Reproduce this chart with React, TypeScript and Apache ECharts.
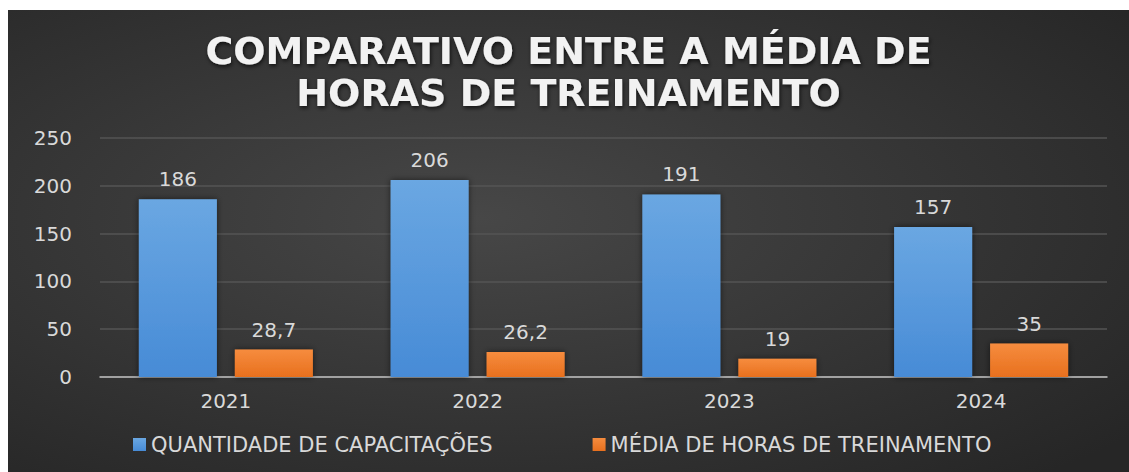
import React, { useEffect, useRef } from "react";
import * as echarts from "echarts";

const categories = ["2021", "2022", "2023", "2024"];
const capacitacoes = [186, 206, 191, 157];
const mediaHoras = [28.7, 26.2, 19, 35];
const seriesNames = ["QUANTIDADE DE CAPACITAÇÕES", "MÉDIA DE HORAS DE TREINAMENTO"];
const titleText = "COMPARATIVO ENTRE A MÉDIA DE\nHORAS DE TREINAMENTO";

const FONT = "'DejaVu Sans', sans-serif";

export default function App() {
  const ref = useRef<HTMLDivElement>(null);
  useEffect(() => {
    if (!ref.current) return;
    const chart = echarts.init(ref.current, null, { renderer: "svg" });
    const labelFmt = (p: any) => String(p.value).replace(".", ",");
    const dataLabel = {
      show: true,
      position: "top",
      distance: 10,
      color: "#d9d9d9",
      fontFamily: FONT,
      fontSize: 20,
      formatter: labelFmt,
    };
    chart.setOption({
      animation: false,
      backgroundColor: "transparent",
      graphic: [
        {
          type: "rect",
          z: -10,
          silent: true,
          shape: { x: 0, y: 0, width: 1121, height: 462 },
          style: {
            fill: {
              type: "radial",
              x: 0.42,
              y: 0.45,
              r: 0.75,
              colorStops: [
                { offset: 0, color: "#474747" },
                { offset: 1, color: "#262626" },
              ],
            },
          },
        },
      ],
      title: {
        text: titleText,
        left: "center",
        top: 15,
        textStyle: {
          color: "#f2f2f2",
          fontFamily: FONT,
          fontWeight: "bold",
          fontSize: 38,
          lineHeight: 42,
          textShadowColor: "rgba(0,0,0,0.7)",
          textShadowBlur: 4,
          textShadowOffsetX: 1,
          textShadowOffsetY: 2,
        },
      },
      legend: {
        bottom: 12,
        left: 120,
        itemWidth: 13,
        itemHeight: 13,
        itemGap: 100,
        icon: "rect",
        textStyle: { color: "#d9d9d9", fontFamily: FONT, fontSize: 21 },
        data: seriesNames,
      },
      grid: { left: 92, right: 22, top: 128, bottom: 95 },
      xAxis: {
        type: "category",
        data: categories,
        axisTick: { show: false },
        axisLine: { lineStyle: { color: "#bfbfbf", width: 1.5 } },
        axisLabel: { color: "#d9d9d9", fontFamily: FONT, fontSize: 20, margin: 14 },
      },
      yAxis: {
        type: "value",
        min: 0,
        max: 250,
        interval: 50,
        axisLine: { show: false },
        axisTick: { show: false },
        splitLine: { lineStyle: { color: "#555555", width: 1.5 } },
        axisLabel: { color: "#d9d9d9", fontFamily: FONT, fontSize: 20, margin: 28 },
      },
      series: [
        {
          name: seriesNames[0],
          type: "bar",
          data: capacitacoes,
          barWidth: "31%",
          barGap: "23%",
          itemStyle: {
            color: {
              type: "linear",
              x: 0, y: 0, x2: 0, y2: 1,
              colorStops: [
                { offset: 0, color: "#6aa7e2" },
                { offset: 1, color: "#478bd6" },
              ],
            },
            shadowColor: "rgba(0,0,0,0.55)",
            shadowBlur: 6,
          },
          label: dataLabel,
        },
        {
          name: seriesNames[1],
          type: "bar",
          data: mediaHoras,
          barWidth: "31%",
          itemStyle: {
            color: {
              type: "linear",
              x: 0, y: 0, x2: 0, y2: 1,
              colorStops: [
                { offset: 0, color: "#f68c3e" },
                { offset: 1, color: "#e8701e" },
              ],
            },
            shadowColor: "rgba(0,0,0,0.55)",
            shadowBlur: 6,
          },
          label: dataLabel,
        },
      ],
    });
    return () => chart.dispose();
  }, []);
  return (
    <div
      ref={ref}
      style={{ position: "absolute", left: 8, top: 10, width: 1121, height: 462 }}
    />
  );
}
